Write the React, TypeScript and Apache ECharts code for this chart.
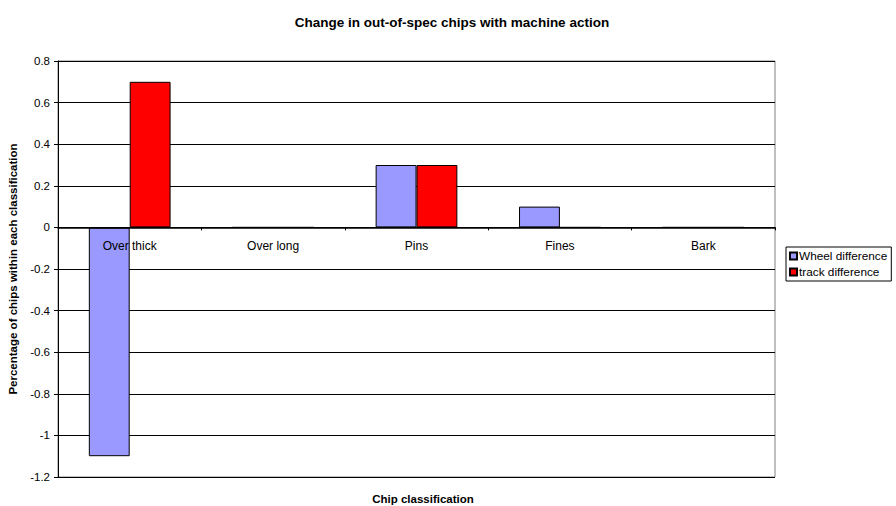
import React, { useEffect, useRef } from "react";
import * as echarts from "echarts";

const categories = ["Over thick", "Over long", "Pins", "Fines", "Bark"];
const wheelDifference = [-1.1, 0, 0.3, 0.1, 0];
const trackDifference = [0.7, 0, 0.3, 0, 0];
const seriesNames = ["Wheel difference", "track difference"];
const titleText = "Change in out-of-spec chips with machine action";
const xName = "Chip classification";
const yName = "Percentage of chips within each classification";
const yMin = -1.2;
const yMax = 0.8;
const yStep = 0.2;

const FONT = "Arial, 'Liberation Sans', sans-serif";

const GRID_TOP = 61;
const GRID_BOTTOM = 29;
const CHART_H = 506;

export default function App() {
  const ref = useRef<HTMLDivElement>(null);
  useEffect(() => {
    const chart = echarts.init(ref.current!, null, { renderer: "svg" });
    const plotH = CHART_H - GRID_TOP - GRID_BOTTOM;
    const zeroOffset = -((0 - yMin) / (yMax - yMin)) * plotH;
    chart.setOption({
      animation: false,
      backgroundColor: "#ffffff",
      textStyle: { fontFamily: FONT },
      title: [
        {
          text: titleText,
          left: 447,
          top: 10,
          textAlign: "center",
          textStyle: { fontSize: 13.5, fontWeight: "bold", color: "#000", fontFamily: FONT },
        },
        {
          text: xName,
          left: 418,
          top: 488,
          textAlign: "center",
          textStyle: { fontSize: 11.5, fontWeight: "bold", color: "#000", fontFamily: FONT },
        },
      ],
      legend: {
        orient: "vertical",
        left: 786,
        top: 247,
        data: seriesNames,
        borderColor: "#000",
        borderWidth: 1,
        padding: [3, 4, 3, 3],
        itemWidth: 7,
        itemHeight: 7,
        itemGap: 4,
        icon: "rect",
        textStyle: { fontSize: 11.8, color: "#000", fontFamily: FONT, padding: [0, 0, 0, -3] },
      },
      grid: {
        left: 58,
        right: 121,
        top: GRID_TOP,
        bottom: GRID_BOTTOM,
        show: true,
        borderColor: "#808080",
        borderWidth: 1,
        containLabel: false,
        outerBoundsMode: "none",
      },
      xAxis: {
        type: "category",
        data: categories,
        offset: zeroOffset,
        z: 5,
        axisLine: { onZero: false, lineStyle: { color: "#000", width: 1.5 } },
        axisTick: { show: true, length: 3, inside: false, lineStyle: { color: "#000" } },
        axisLabel: { fontSize: 12, color: "#000", margin: 13, fontFamily: FONT },
        splitLine: { show: false },
      },
      yAxis: {
        type: "value",
        min: yMin,
        max: yMax,
        interval: yStep,
        name: yName,
        nameLocation: "middle",
        nameGap: 37,
        nameTextStyle: { fontSize: 11.5, fontWeight: "bold", color: "#000", fontFamily: FONT },
        axisLine: { show: true, lineStyle: { color: "#000", width: 1 } },
        axisTick: { show: true, length: 4, lineStyle: { color: "#000" } },
        axisLabel: {
          fontSize: 11.5,
          color: "#000",
          margin: 8,
          fontFamily: FONT,
          formatter: (v: number) => String(Math.round(v * 10) / 10),
        },
        splitLine: { show: true, lineStyle: { color: "#000", width: 1 } },
      },
      series: [
        {
          name: seriesNames[0],
          type: "bar",
          data: wheelDifference,
          barGap: "0%",
          barCategoryGap: "43%",
          itemStyle: { color: "#9999FF", borderColor: "#000", borderWidth: 1 },
        },
        {
          name: seriesNames[1],
          type: "bar",
          data: trackDifference,
          barGap: "0%",
          barCategoryGap: "43%",
          itemStyle: { color: "#FF0000", borderColor: "#000", borderWidth: 1 },
        },
      ],
    });
    return () => chart.dispose();
  }, []);
  return <div ref={ref} style={{ width: 896, height: 506, position: "absolute", left: 0, top: 0 }} />;
}
